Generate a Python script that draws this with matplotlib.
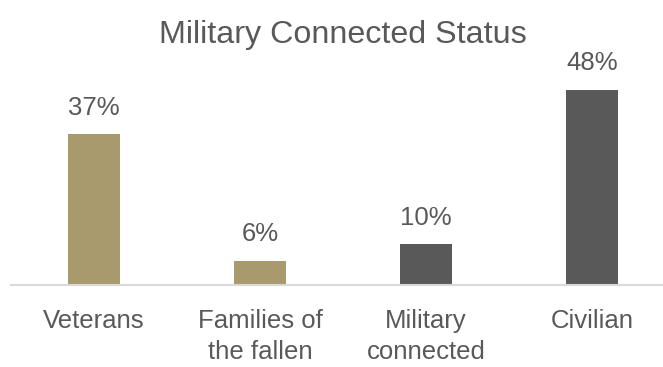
import matplotlib
matplotlib.use("Agg")
import matplotlib.pyplot as plt

# Share of people by military connection
categories = ["Veterans", "Families of\nthe fallen", "Military\nconnected", "Civilian"]
values = [37, 6, 10, 48]
bar_colors = ["#A99A6E", "#A99A6E", "#595959", "#595959"]

TEXT = "#595959"
plt.rcParams["font.family"] = ["Liberation Sans", "DejaVu Sans"]

W, H = 663, 367
fig = plt.figure(figsize=(W / 100, H / 100), dpi=100)

# plot area runs slightly past the right edge of the canvas
left, right = 11 / W, 675 / W
bottom = (H - 285) / H
ax = fig.add_axes([left, bottom, right - left, 224 / H])

x = range(len(categories))
bars = ax.bar(x, values, width=0.31, color=bar_colors, zorder=2)

ax.set_xlim(-0.5, len(categories) - 0.5)
ax.set_ylim(0, 55)

for b, v in zip(bars, values):
    ax.annotate(f"{v}%", (b.get_x() + b.get_width() / 2, b.get_height()),
                xytext=(0, 14), textcoords="offset points",
                ha="center", va="baseline", fontsize=18.5, color=TEXT)

ax.set_xticks(list(x))
ax.set_xticklabels(categories, fontsize=18.5, color=TEXT, linespacing=1.35)
ax.tick_params(axis="x", length=0, pad=17.5)
ax.set_yticks([])

for side in ["top", "right", "left"]:
    ax.spines[side].set_visible(False)
ax.spines["bottom"].set_color("#D9D9D9")
ax.spines["bottom"].set_linewidth(1.5)

fig.text(left + (right - left) / 2, 1 - 43 / H, "Military Connected Status",
         ha="center", va="baseline", fontsize=23.2, color=TEXT)

fig.savefig("out.png", dpi=100)
